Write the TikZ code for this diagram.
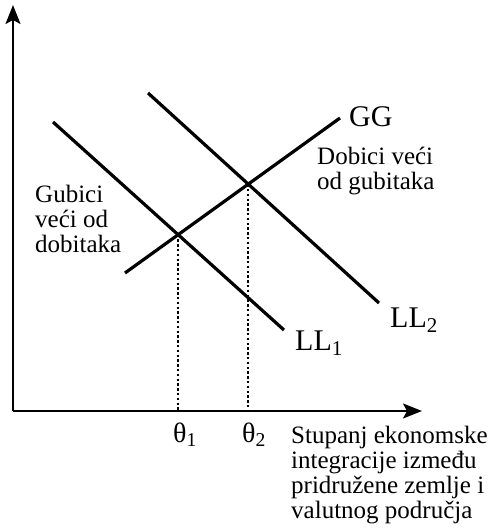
\documentclass[tikz,border=0pt]{standalone}
\usepackage{fontspec}
\setmainfont{Liberation Serif}
\usetikzlibrary{arrows.meta,intersections}

\begin{document}
\begin{tikzpicture}[
    x=1pt, y=-1pt,
    axis/.style={line width=2pt, -{Stealth[length=19pt,width=15pt,inset=4pt]}},
    curve/.style={line width=3.2pt},
    guide/.style={line width=2.4pt, dash pattern=on 2.4pt off 2.4pt},
    curvelabel/.style={font=\fontsize{30}{32}\selectfont, inner sep=0pt},
    thetalabel/.style={font=\fontsize{28}{30}\selectfont, inner sep=0pt},
    note/.style={font=\fontsize{25}{25}\selectfont, align=left, inner sep=0pt}
]
\useasboundingbox (0,0) rectangle (490,530);

% Osi
\coordinate (O)    at (13,411);
\coordinate (ytop) at (13,5);
\coordinate (xend) at (422,411);
\draw[axis] (O) -- (ytop);
\draw[axis] (O) -- (xend);

% Krivulje LL1, LL2 i GG
\coordinate (ll1a) at (53,122);
\coordinate (ll1b) at (284,330);
\coordinate (ll2a) at (148,93);
\coordinate (ll2b) at (379,303);
\coordinate (gga)  at (125,273);
\coordinate (ggb)  at (340,118);
\draw[curve, name path=ll1] (ll1a) -- (ll1b);
\draw[curve, name path=ll2] (ll2a) -- (ll2b);
\draw[curve, name path=gg]  (gga) -- (ggb);

% Presjeci i tockaste linije
\path[name intersections={of=ll1 and gg, by=e1}];
\path[name intersections={of=ll2 and gg, by=e2}];
\draw[guide] (e1) -- (e1 |- O);
\draw[guide] (e2) -- (e2 |- O);

% Oznake krivulja
\node[curvelabel, anchor=base west] (gglab)  at (349,126) {GG};
\node[curvelabel, anchor=base west] (ll1lab) at (295,350) {LL\textsubscript{1}};
\node[curvelabel, anchor=base west] (ll2lab) at (390,327) {LL\textsubscript{2}};

% Oznake na osi x
\node[thetalabel, anchor=base west] (th1) at (173,442) {θ\textsubscript{1}};
\node[thetalabel, anchor=base west] (th2) at (242,442) {θ\textsubscript{2}};

% Tekstovi
\node[note, anchor=north west] (gubici) at (35,185) {Gubici\\veći od\\dobitaka};
\node[note, anchor=north west] (dobici) at (317,147) {Dobici veći\\od gubitaka};
\node[note, anchor=north west] (xlab) at (291,426)
    {Stupanj ekonomske\\integracije između\\pridružene zemlje i\\valutnog područja};

\end{tikzpicture}
\end{document}
